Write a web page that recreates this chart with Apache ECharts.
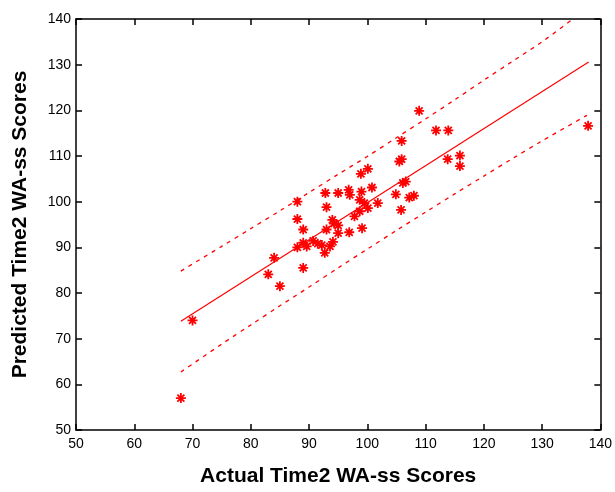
<!DOCTYPE html>
<html><head><meta charset="utf-8">
<script src="https://cdn.jsdelivr.net/npm/echarts@6/dist/echarts.min.js"></script>
<style>html,body{margin:0;padding:0;background:#fff}#c{width:615px;height:492px}</style>
</head><body><div id="c"></div>
<script>
var xTitle = 'Actual Time2 WA-ss Scores';
var yTitle = 'Predicted Time2 WA-ss Scores';
var actual = [68,70,83,84,85,88,88,88,89,89,89,89.6,90.7,91.5,92.2,92.7,93.6,93,94.1,95,93,92.8,94,94.3,95,95,96.8,97,96.9,97.8,98.7,99,99.5,100.1,98.7,99.1,98.9,100.1,100.8,101.8,104.9,105.5,105.9,105.9,106.1,106.6,105.8,107.2,108,108.9,111.8,113.9,113.8,115.9,115.9,137.9];
var predicted = [57,74,84.1,87.7,81.5,100,96.2,90,93.9,91,85.5,90.2,91.4,90.8,90.5,88.8,90.2,93.9,91.2,93.1,98.8,101.9,96,95.2,94.8,101.9,102.6,101.5,93.3,96.8,100.4,102.2,99.7,98.6,97.9,94.2,106.1,107.2,103.1,99.7,101.6,108.8,109.3,113.3,104.1,104.4,98.2,100.9,101.3,119.9,115.6,115.6,109.3,110.1,107.8,116.6];
var fitX = [68,138];
var fitY = [73.8,130.6];
var upperX = [68,75,80,85,90,95,100,105,110,115,120,125,130,135.3];
var upperY = [84.8,90.2,94.1,98.0,102.0,106.0,109.9,114.0,118.1,122.3,126.6,130.8,135.0,140];
var lowerX = [68,75,80,85,90,95,100,105,110,115,120,125,130,137.7];
var lowerY = [62.7,68.8,73.0,77.2,81.3,85.5,89.6,93.7,97.7,101.7,105.6,109.5,113.3,118.9];
var ticks = [50,60,70,80,90,100,110,120,130,140];

function zip(a,b){return a.map(function(v,i){return [v,b[i]];});}
var red = '#ff0000';
var lblFont = {color:'#000', fontFamily:'Liberation Sans Narrow, Liberation Sans, Arial', fontSize:14};
var nameFont = {color:'#000', fontFamily:'Liberation Sans, Arial', fontSize:21, fontWeight:'bold'};
var axisCommon = {min:ticks[0], max:ticks[ticks.length-1], interval:10,
  axisLine:{onZero:false, lineStyle:{color:'#000', width:1.5}},
  axisTick:{inside:true, length:6, lineStyle:{color:'#000', width:1.5}},
  splitLine:{show:false}};
var chart = echarts.init(document.getElementById('c'), null, {renderer:'canvas'});
chart.setOption({
  animation:false,
  backgroundColor:'#fff',
  grid:{left:76, right:11, top:19, bottom:59, show:false},
  xAxis:[
    Object.assign({type:'value', position:'bottom', name:xTitle, nameLocation:'middle', nameGap:36, nameTextStyle:nameFont,
      axisLabel:Object.assign({margin:7}, lblFont)}, axisCommon),
    Object.assign({type:'value', position:'top', axisLabel:{show:false}}, axisCommon)
  ],
  yAxis:[
    Object.assign({type:'value', position:'left', name:yTitle, nameLocation:'middle', nameGap:45, nameTextStyle:nameFont,
      axisLabel:Object.assign({margin:5}, lblFont)}, axisCommon),
    Object.assign({type:'value', position:'right', axisLabel:{show:false}}, axisCommon)
  ],
  series:[
    {type:'line', data:zip(fitX,fitY), symbol:'none', lineStyle:{color:red, width:1.2}, silent:true},
    {type:'line', data:zip(upperX,upperY), symbol:'none', smooth:0.3, lineStyle:{color:red, width:1.3, type:[4,5]}, silent:true},
    {type:'line', data:zip(lowerX,lowerY), symbol:'none', smooth:0.3, lineStyle:{color:red, width:1.3, type:[4,5]}, silent:true},
    {type:'scatter', data:zip(actual,predicted), symbol:'path://M0,-5L0,5M-5,0L5,0M-3.5,-3.5L3.5,3.5M-3.5,3.5L3.5,-3.5', symbolSize:10,
      itemStyle:{color:'none', borderColor:red, borderWidth:1.8, opacity:1}}
  ]
});
</script></body></html>
